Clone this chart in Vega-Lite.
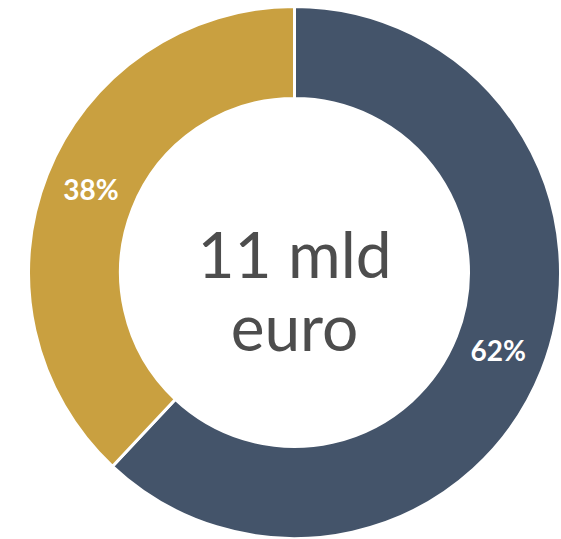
{
  "$schema": "https://vega.github.io/schema/vega-lite/v6.json",
  "width": 561,
  "height": 539,
  "autosize": {"type": "fit", "contains": "padding"},
  "padding": {"left": 28, "top": 6, "right": 0, "bottom": 0},
  "background": "white",
  "view": {"stroke": null},
  "data": {
    "values": [
      {"segment": "A", "value": 62, "label": "62%", "order": 1},
      {"segment": "B", "value": 38, "label": "38%", "order": 2}
    ]
  },
  "layer": [
    {
      "mark": {"type": "arc", "innerRadius": 174, "outerRadius": 266, "stroke": "white", "strokeWidth": 3},
      "encoding": {
        "theta": {"field": "value", "type": "quantitative", "stack": true},
        "order": {"field": "order", "type": "quantitative"},
        "color": {
          "field": "segment",
          "type": "nominal",
          "scale": {"domain": ["A", "B"], "range": ["#44546A", "#C9A040"]},
          "legend": null
        }
      }
    },
    {
      "mark": {"type": "text", "radius": 219, "color": "white", "font": "Lato", "fontWeight": "bold", "fontSize": 28},
      "encoding": {
        "theta": {"field": "value", "type": "quantitative", "stack": true},
        "order": {"field": "order", "type": "quantitative"},
        "text": {"field": "label", "type": "nominal"}
      }
    },
    {
      "data": {"values": [{"t": "11 mld\neuro"}]},
      "mark": {"type": "text", "lineBreak": "\n", "font": "Lato", "fontSize": 64, "lineHeight": 73, "color": "#4D4D4D", "align": "center", "baseline": "middle", "dy": -14},
      "encoding": {
        "text": {"field": "t", "type": "nominal"}
      }
    }
  ]
}
